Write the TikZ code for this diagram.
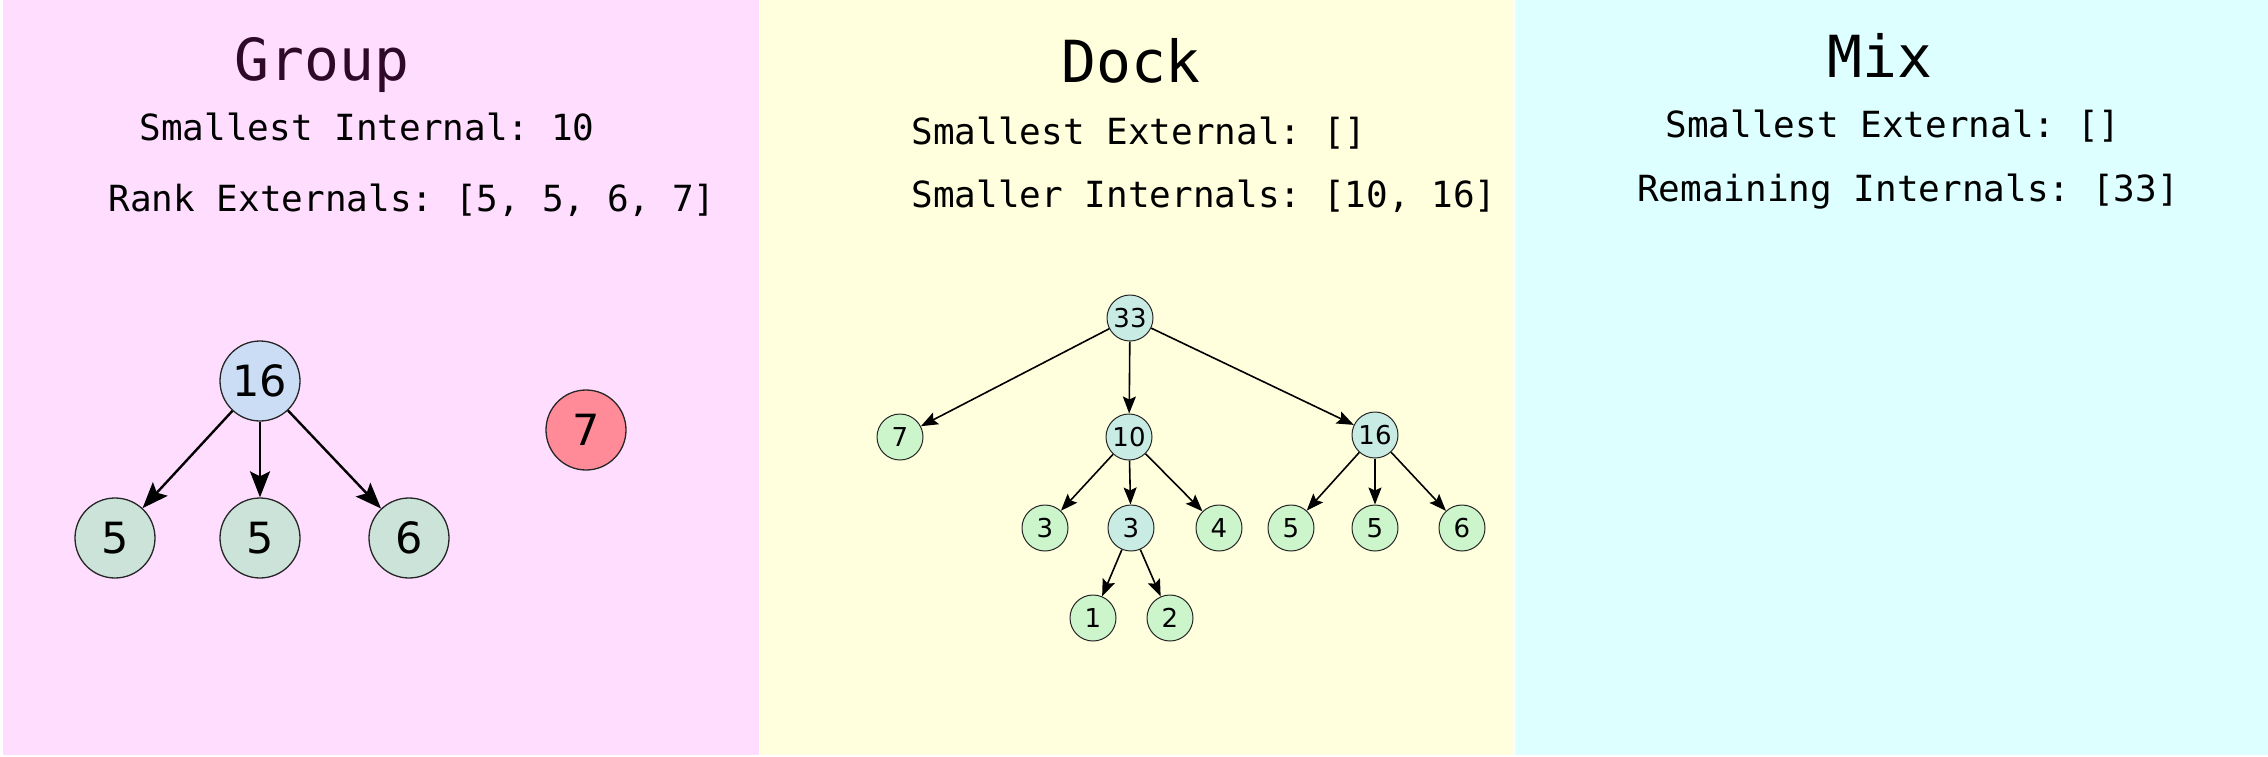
\documentclass[tikz,border=0pt]{standalone}
\usepackage{fontspec}
\setmainfont{DejaVu Sans}
\setmonofont{DejaVu Sans Mono}
\usepackage{tikz}
\usetikzlibrary{arrows.meta}

\definecolor{grouppink}{HTML}{FFDDFF}
\definecolor{dockyellow}{HTML}{FFFFDD}
\definecolor{mixcyan}{HTML}{DDFFFF}
\definecolor{rootblue}{HTML}{CBDCF5}
\definecolor{leafgrey}{HTML}{CBE3D9}
\definecolor{spare}{HTML}{FF8B99}
\definecolor{innercyan}{HTML}{C8ECE4}
\definecolor{leafgreen}{HTML}{CCF5CC}
\definecolor{titlepurple}{HTML}{2E0A28}

\begin{document}
\begin{tikzpicture}[x=1pt,y=-1pt,
        title/.style={anchor=base,font=\ttfamily\fontsize{58}{60}\selectfont},
        info/.style={anchor=base,font=\ttfamily\fontsize{36}{38}\selectfont},
        bigvertex/.style={draw=black!85,line width=1.3pt,circle,inner sep=0pt,minimum size=80pt,font=\fontsize{43}{45}\selectfont},
        vertex/.style={draw=black!85,line width=1pt,circle,inner sep=0pt,minimum size=46pt,font=\fontsize{26}{28}\selectfont},
        bigarc/.style={draw,line width=2.4pt,-{Stealth[length=26pt,width=20pt,inset=5pt]}},
        arc/.style={draw,line width=1.6pt,-{Stealth[length=17pt,width=13pt,inset=3pt]}}]
        \useasboundingbox (0,0) rectangle (2268,756);
        \fill[white] (0,0) rectangle (2268,756);
        \fill[grouppink] (3,0) rectangle (759,755);
        \fill[dockyellow] (760,0) rectangle (1514,755);
        \fill[mixcyan] (1515,0) rectangle (2268,755);

        \node[title,text=titlepurple] (grouptitle) at (322,80) {Group};
        \node[info] (groupsmall) at (367,140) {Smallest Internal: 10};
        \node[info] (grouprank) at (412,211) {Rank Externals: [5, 5, 6, 7]};
        \node[title] (docktitle) at (1131,82) {Dock};
        \node[info] (docksmall) at (1139,144) {Smallest External: []};
        \node[info] (dockinner) at (1204,207) {Smaller Internals: [10, 16]};
        \node[title] (mixtitle) at (1880,77) {Mix};
        \node[info] (mixsmall) at (1893,137) {Smallest External: []};
        \node[info] (mixinner) at (1908,201) {Remaining Internals: [33]};

        \node[bigvertex,fill=rootblue] (g16) at (260,381) {16};
        \foreach \n/\x/\l in {g5a/115/5,g5b/260/5,g6/409/6}{
            \node[bigvertex,fill=leafgrey] (\n) at (\x,538) {\l};
        }
        \node[bigvertex,fill=spare] (g7) at (586,430) {7};
        \foreach \b in {g5a,g5b,g6}{
            \draw[bigarc] (g16) edge (\b);
        }

        \foreach \n/\x/\y/\l in {d33/1130/318/33,d10/1129/437/10,d16/1375/435/16,d3b/1131/528/3}{
            \node[vertex,fill=innercyan] (\n) at (\x,\y) {\l};
        }
        \foreach \n/\x/\y/\l in {d7/900/437/7,d3a/1045/528/3,d4/1219/528/4,d5a/1291/528/5,d5b/1375/528/5,d6/1462/528/6,d1/1093/618/1,d2/1170/618/2}{
            \node[vertex,fill=leafgreen] (\n) at (\x,\y) {\l};
        }
        \foreach \a/\b in {d33/d7,d33/d10,d33/d16,d10/d3a,d10/d3b,d10/d4,d16/d5a,d16/d5b,d16/d6,d3b/d1,d3b/d2}{
            \draw[arc] (\a) edge (\b);
        }
    \end{tikzpicture}
\end{document}
